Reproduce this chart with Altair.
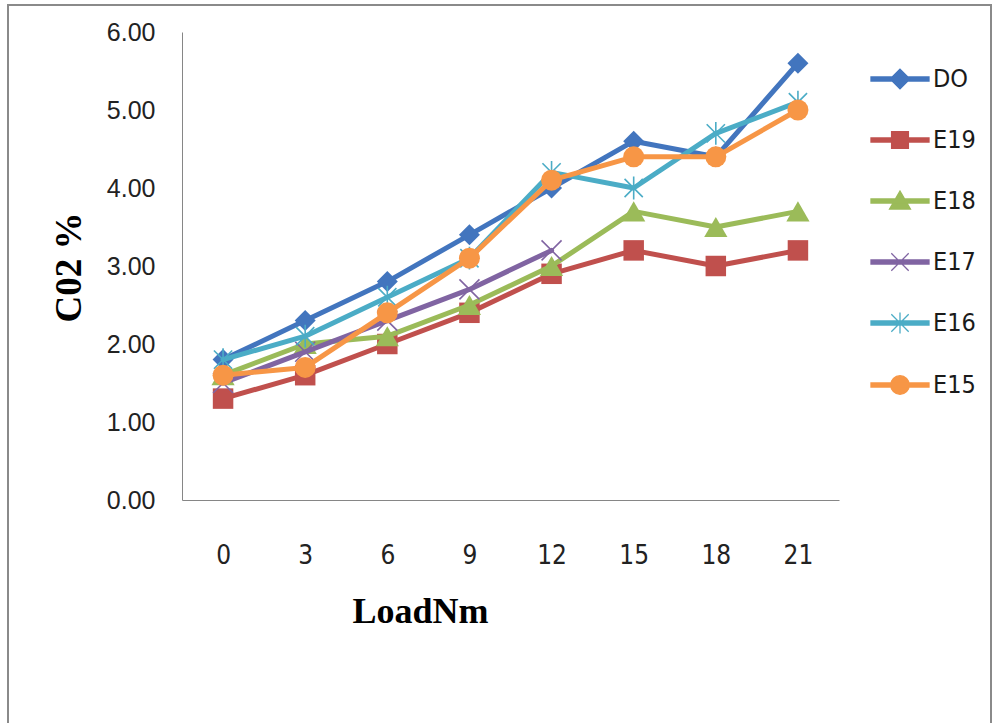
import altair as alt
import pandas as pd

# Engine load categories (x axis) and CO2 readings for each blend
loads = ["0", "3", "6", "9", "12", "15", "18", "21"]
series_names = ["DO", "E19", "E18", "E17", "E16", "E15"]

do_vals = [1.8, 2.3, 2.8, 3.4, 4.0, 4.6, 4.4, 5.6]
e19_vals = [1.3, 1.6, 2.0, 2.4, 2.9, 3.2, 3.0, 3.2]
e18_vals = [1.6, 2.0, 2.1, 2.5, 3.0, 3.7, 3.5, 3.7]
e17_vals = [1.5, 1.9, 2.3, 2.7, 3.2, None, None, None]
e16_vals = [1.8, 2.1, 2.6, 3.1, 4.2, 4.0, 4.7, 5.1]
e15_vals = [1.6, 1.7, 2.4, 3.1, 4.1, 4.4, 4.4, 5.0]

y_ticks = [0, 1, 2, 3, 4, 5, 6]

colors = ["#4275BE", "#C0504D", "#9BBB59", "#8064A2", "#4BACC6", "#F79646"]

values_by_series = [do_vals, e19_vals, e18_vals, e17_vals, e16_vals, e15_vals]
rows = []
for name, vals in zip(series_names, values_by_series):
    for load, v in zip(loads, vals):
        if v is not None:
            rows.append({"load": load, "series": name, "co2": v})
df = pd.DataFrame(rows)

NARROW = "DejaVu Sans Condensed, Liberation Sans, sans-serif"
SERIF = "Liberation Serif, Times New Roman, serif"

# Plot markers: (shape, size, filled)
markers = {
    "DO": ("diamond", 440, True),
    "E19": ("square", 420, True),
    "E18": ("triangle-up", 540, True),
    "E17": ("M-1,-1L1,1M-1,1L1,-1", 400, False),
    "E16": ("M-0.8,-0.8L0.8,0.8M-0.8,0.8L0.8,-0.8M0,-1L0,1", 520, False),
    "E15": ("circle", 440, True),
}

# Legend glyphs: a line segment with the series marker on top
bar = "M-1,-0.07H1V0.07H-1Z"
legend_paths = [
    bar + "M0,-0.34L0.34,0L0,0.34L-0.34,0Z",
    bar + "M-0.29,-0.29H0.29V0.29H-0.29Z",
    bar + "M0,-0.34L0.36,0.28L-0.36,0.28Z",
    bar + "M-0.3,-0.3L0.3,0.3M-0.3,0.3L0.3,-0.3",
    bar + "M-0.3,-0.3L0.3,0.3M-0.3,0.3L0.3,-0.3M0,-0.36V0.36",
    bar + "M0.32,0A0.32,0.32,0,1,1,-0.32,0A0.32,0.32,0,1,1,0.32,0Z",
]

x_enc = alt.X(
    "load:O",
    sort=loads,
    scale=alt.Scale(domain=loads, padding=0.5),
    axis=alt.Axis(
        labelAngle=0,
        grid=False,
        ticks=False,
        tickSize=0,
        domainColor="#868686",
        domainWidth=1,
        labelFont=NARROW,
        labelFontSize=26,
        labelColor="#222222",
        labelPadding=42,
        title="LoadNm",
        titleFont=SERIF,
        titleFontSize=36,
        titleFontWeight="bold",
        titleColor="#000000",
        titleX=238,
        titleY=122,
        titleAlign="center",
        titleBaseline="alphabetic",
    ),
)

y_enc = alt.Y(
    "co2:Q",
    scale=alt.Scale(domain=[0, 6], nice=False),
    axis=alt.Axis(
        values=y_ticks,
        format=".2f",
        grid=False,
        ticks=False,
        tickSize=0,
        domainColor="#868686",
        domainWidth=1,
        labelFont="Liberation Sans, Arial, sans-serif",
        labelFontSize=25,
        labelColor="#222222",
        labelPadding=27,
        title="C02 %",
        titleFont=SERIF,
        titleFontSize=37,
        titleFontWeight="bold",
        titleColor="#000000",
        titleAngle=270,
        titleX=-102,
        titleY=235,
        titleAlign="center",
        titleBaseline="alphabetic",
    ),
)

layers = []
for name, color in zip(series_names, colors):
    sub = alt.Chart(df).transform_filter(alt.datum.series == name)
    layers.append(
        sub.mark_line(strokeWidth=5, strokeJoin="round", strokeCap="round", color=color)
        .encode(x=x_enc, y=y_enc)
    )
    shape, size, filled = markers[name]
    if filled:
        pt = sub.mark_point(shape=shape, size=size, filled=True, opacity=1, color=color)
    else:
        pt = sub.mark_point(shape=shape, size=size, filled=False, opacity=1,
                            color=color, strokeWidth=1.6)
    layers.append(pt.encode(x=x_enc, y=y_enc))

legend_def = alt.Legend(
    title=None,
    orient="none",
    legendX=688,
    legendY=17,
    symbolSize=3364,
    symbolStrokeWidth=1.3,
    symbolOpacity=1,
    labelFont=NARROW,
    labelFontSize=25,
    labelColor="#1a1a1a",
    labelOffset=3,
    rowPadding=18,
    padding=0,
)

legend_layer = alt.Chart(df).mark_point(filled=True, opacity=0).encode(
    x=x_enc,
    y=y_enc,
    fill=alt.Fill("series:N", scale=alt.Scale(domain=series_names, range=colors), legend=legend_def),
    stroke=alt.Stroke("series:N", scale=alt.Scale(domain=series_names, range=colors), legend=legend_def),
    shape=alt.Shape("series:N", scale=alt.Scale(domain=series_names, range=legend_paths), legend=legend_def),
)
layers.append(legend_layer)

# Outer frame around the whole figure
frame = alt.Chart(pd.DataFrame({"frame": [0]})).mark_rect(
    filled=False, stroke="#8a8a8a", strokeWidth=2
).encode(
    x=alt.value(-174), x2=alt.value(809), y=alt.value(-27), y2=alt.value(700)
)
layers.append(frame)

chart = (
    alt.layer(*layers)
    .properties(
        width=657,
        height=468,
        autosize=alt.AutoSizeParams(type="none"),
        padding={"left": 182, "top": 32, "right": 156, "bottom": 223},
        background="#ffffff",
    )
    .configure_view(stroke="transparent")
)

chart.save("out.html", embed_options={"renderer": "svg", "actions": False})
